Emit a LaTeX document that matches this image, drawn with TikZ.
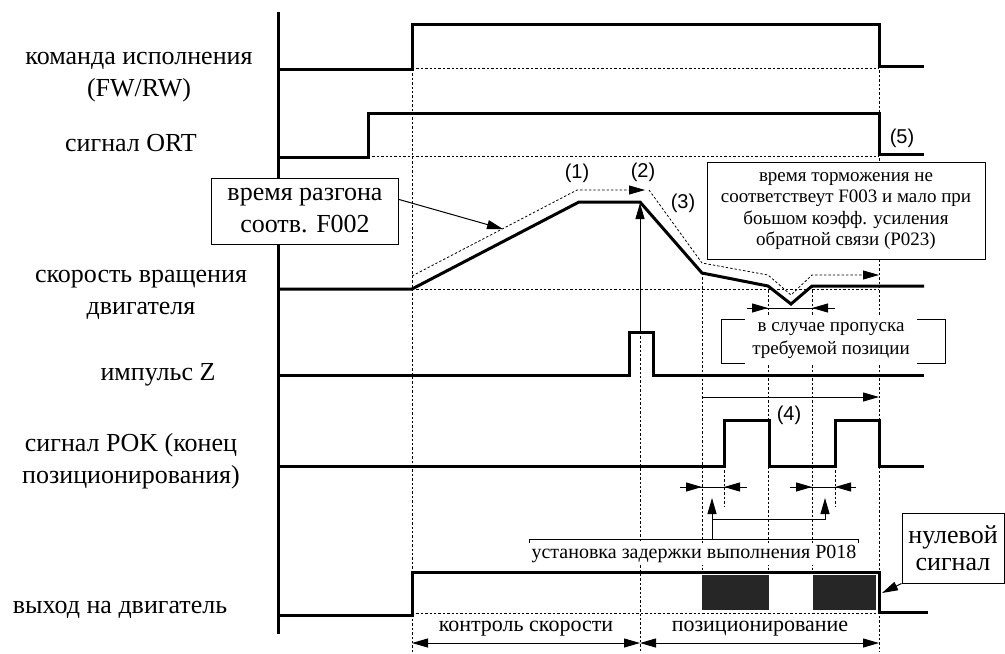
\documentclass[tikz,border=0pt]{standalone}
\usepackage{fontspec}
\setmainfont{Liberation Serif}
\newfontfamily\numfont{Liberation Sans}
\usetikzlibrary{arrows.meta, positioning, calc}

\begin{document}
\begin{tikzpicture}[
    x=0.5pt, y=-0.5pt,
    signal/.style={line width=1.5pt, line join=miter},
    guide/.style={line width=0.4pt, dash pattern=on 1.2pt off 1pt},
    thinline/.style={line width=0.5pt},
    arrowstyle/.style={-{Triangle[length=8pt,width=4.5pt]}, line width=0.5pt},
    dimstyle/.style={{Triangle[length=8pt,width=4.5pt]}-{Triangle[length=8pt,width=4.5pt]}, line width=0.5pt},
    rowlabel/.style={font=\fontsize{13}{16}\selectfont, align=center, inner sep=0pt},
    callout/.style={rectangle, draw, line width=0.5pt, fill=white, align=center, inner sep=2pt},
    smalltext/.style={font=\fontsize{9.5}{11.5}\selectfont, align=center},
    numlabel/.style={font=\numfont\fontsize{10}{12}\selectfont, inner sep=1pt},
    fillblock/.style={fill=black!85}
]
\useasboundingbox (0,0) rectangle (1005,653);

\draw[signal] (278,12) -- (278,634);

\draw[guide] (412,68) -- (879,68);
\draw[guide] (368,156) -- (879,156);
\draw[guide] (412,289) -- (879,289);
\draw[guide] (412,613) -- (879,613);
\foreach \x/\ya/\yb in {412/69/652, 640/332/652, 702/273/574, 768/286/574, 812/286/574, 879/66/652, 724/466/507, 835/466/507}
    \draw[guide] (\x,\ya) -- (\x,\yb);

\draw[guide, -{Triangle[length=8pt,width=4.5pt]}] (412,276) -- (577,190) -- (645,190);
\draw[guide, -{Triangle[length=8pt,width=4.5pt]}] (649,190) -- (702,263) -- (768,275) -- (791,295) -- (812,275) -- (879,275);

\draw[signal] (278,69) -- (412,69) -- (412,24) -- (879,24) -- (879,66) -- (924,66);
\draw[signal] (278,157) -- (368,157) -- (368,113) -- (879,113) -- (879,154) -- (924,154);
\draw[signal] (278,289) -- (412,289) -- (579,202) -- (640,202) -- (702,273) -- (768,286) -- (791,304) -- (812,286) -- (924,286);
\draw[signal] (278,375) -- (629,375) -- (629,332) -- (653,332) -- (653,375) -- (924,375);
\draw[signal] (278,466) -- (724,466) -- (724,420) -- (769,420) -- (769,466) -- (835,466) -- (835,420) -- (879,420) -- (879,466) -- (924,466);
\draw[signal] (278,615) -- (412,615) -- (412,572) -- (879,572) -- (879,612) -- (928,612);
\fill[fillblock] (702,575) rectangle (769,610);
\fill[fillblock] (813,575) rectangle (876,610);

\node[rowlabel] (cmdlbl) at (139,77) {команда исполнения\\(FW/RW)};
\node[rowlabel] (ortlbl) at (131,143) {сигнал ORT};
\node[rowlabel] (spdlbl) at (141,295) {скорость вращения\\двигателя};
\node[rowlabel] (zlbl) at (158,375) {импульс Z};
\node[rowlabel] (poklbl) at (131,461) {сигнал POK (конец\\позиционирования)};
\node[rowlabel] (outlbl) at (120,610) {выход на двигатель};

\node[callout, font=\fontsize{13}{16}\selectfont, minimum width=93.5pt, minimum height=33pt] (accel) at (305,211) {время разгона\\соотв. F002};
\coordinate (accelpt) at (503,229);
\draw[arrowstyle] (accel.7) -- (accelpt);

\node[callout, smalltext, font=\fontsize{9.5}{10.75}\selectfont, minimum width=139pt, minimum height=48.5pt] (brake) at (846,211) {время торможения не\\соответствеут F003 и мало при\\боьшом коэфф. усиления\\обратной связи (P023)};

\node[draw, thinline, minimum width=112pt, minimum height=22pt] (missbox) at (833,341) {};
\node[fill=white, smalltext, inner xsep=3.5pt, inner ysep=3pt] (miss) at (831,341) {в случае пропуска\\требуемой позиции};

\node[draw, thinline, minimum width=164.5pt, minimum height=11pt] (delaybox) at (693.5,550) {};
\node[fill=white, font=\fontsize{10}{12}\selectfont, inner xsep=2pt, inner ysep=1pt] (delay) at (694,554) {установка задержки выполнения P018};

\node[callout, font=\fontsize{13}{13.5}\selectfont, minimum width=51pt, minimum height=35pt] (zero) at (953,548) {нулевой\\сигнал};
\coordinate (zeroedge) at (882,593);
\draw[arrowstyle] (zero.south west) -- (zeroedge);

\coordinate (zpulse) at (640,332);
\coordinate (speedpeak) at (640,203);
\draw[arrowstyle] (zpulse) -- (speedpeak);

\coordinate (delayA) at (712,539);
\coordinate (delayB) at (825,498);
\draw[arrowstyle] (delayA) -- (712,498);
\draw[arrowstyle] (712,519) -| (delayB);

\draw[thinline] (680,487) -- (747,487);
\draw[arrowstyle] (680,487) -- (702,487);
\draw[arrowstyle] (747,487) -- (724,487);
\draw[thinline] (790,487) -- (856,487);
\draw[arrowstyle] (790,487) -- (812,487);
\draw[arrowstyle] (856,487) -- (835,487);

\draw[thinline] (747,308) -- (835,308);
\draw[arrowstyle] (747,308) -- (768,308);
\draw[arrowstyle] (835,308) -- (812,308);

\draw[arrowstyle] (702,397) -- (879,397);

\draw[dimstyle] (412,643) -- (640,643);
\draw[dimstyle] (640,643) -- (879,643);
\node[font=\fontsize{11}{13}\selectfont] (spdctl) at (526,629) {контроль скорости};
\node[font=\fontsize{11}{13}\selectfont] (posctl) at (760,629) {позиционирование};

\node[numlabel] (n1) at (577,173) {(1)};
\node[numlabel] (n2) at (643,172) {(2)};
\node[numlabel] (n3) at (683,203) {(3)};
\node[numlabel] (n4) at (789,415) {(4)};
\node[numlabel] (n5) at (902,138) {(5)};
\end{tikzpicture}
\end{document}
